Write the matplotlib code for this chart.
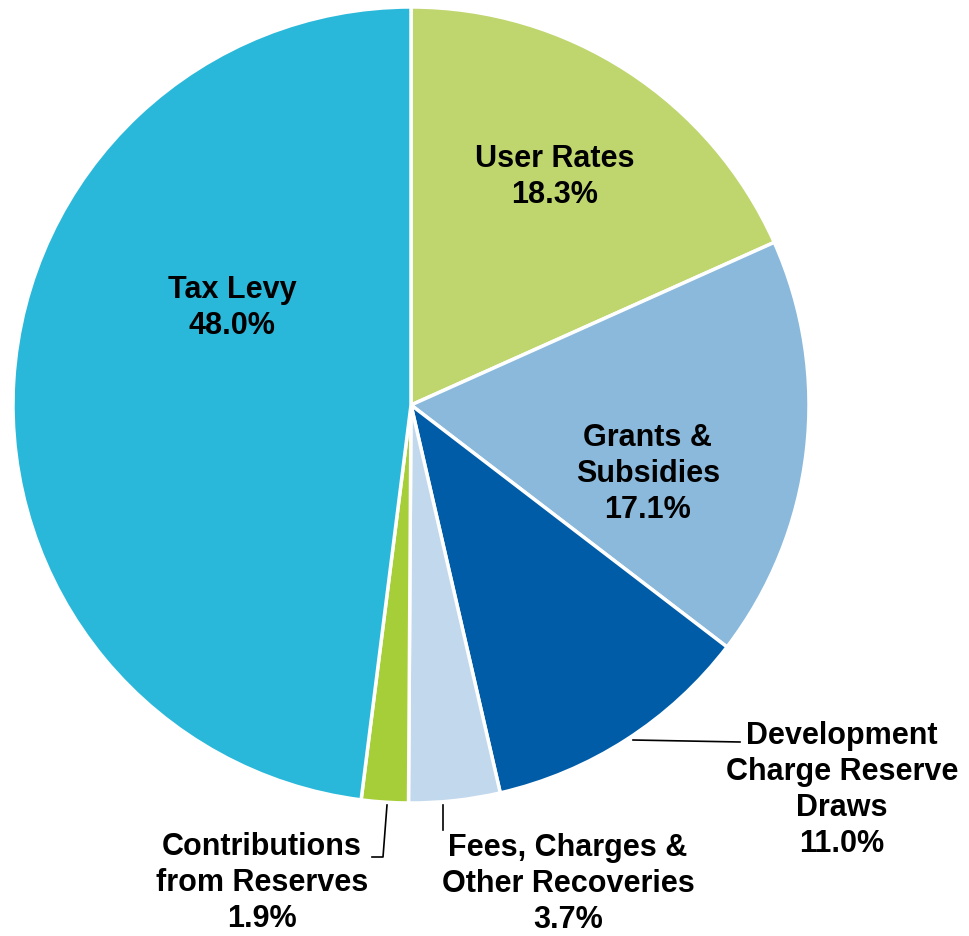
import matplotlib
matplotlib.use("Agg")
import matplotlib.pyplot as plt

# slice data (clockwise from 12 o'clock)
categories = ["User Rates", "Grants &\nSubsidies", "Development\nCharge Reserve\nDraws",
              "Fees, Charges &\nOther Recoveries", "Contributions\nfrom Reserves", "Tax Levy"]
shares = [18.3, 17.1, 11.0, 3.7, 1.9, 48.0]
colors = ["#BFD56D", "#8AB9DC", "#005CA7", "#C2D8EC", "#A6CE39", "#2AB8DA"]

plt.rcParams["font.family"] = ["Liberation Sans", "DejaVu Sans"]

fig = plt.figure(figsize=(9.69, 9.36), dpi=100)
ax = fig.add_axes([0, 0, 1, 1])

ax.pie(shares, colors=colors, startangle=90, counterclock=False,
       center=(411, -405), radius=398, frame=True,
       wedgeprops=dict(edgecolor="white", linewidth=2.5))
ax.set_xlim(0, 969)
ax.set_ylim(-936, 0)
ax.set_aspect("equal")
ax.axis("off")

# label placement (pixel coords, y measured downward)
label_pos = [(555, 177), (648, 474), (842, 790), (568, 884), (262, 883), (232, 308)]
for name, val, (x, y) in zip(categories, shares, label_pos):
    ax.text(x, -y, f"{name}\n{val:.1f}%", ha="center", va="center",
            fontsize=22, fontweight="bold", color="black", linespacing=1.27)

# leader lines
ax.plot([633, 740], [-740, -742], color="black", lw=1.2)
ax.plot([443, 443], [-805, -830], color="black", lw=1.2)
ax.plot([387, 383, 372], [-805, -857, -857], color="black", lw=1.2)

fig.savefig("out.png", dpi=100, facecolor="white")
